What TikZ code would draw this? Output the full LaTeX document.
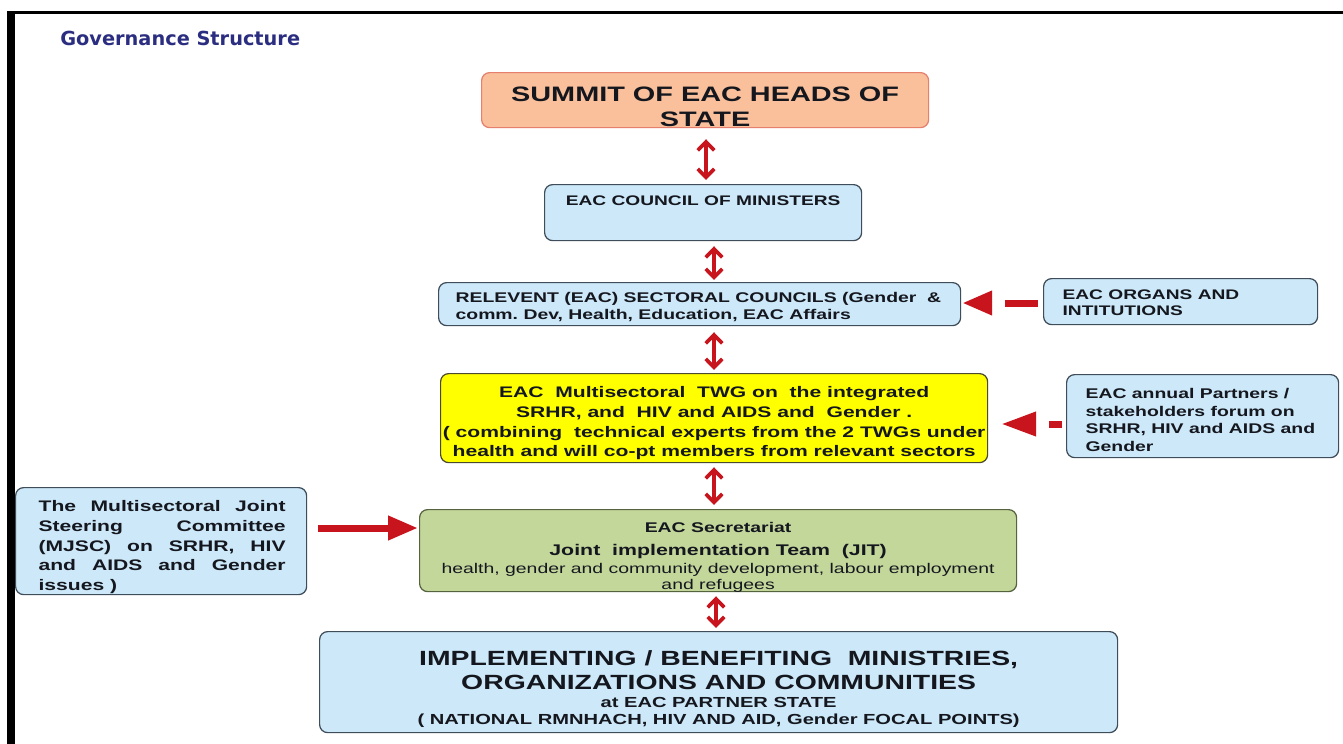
\documentclass[tikz,border=0pt]{standalone}
\usepackage{fontspec}
\setmainfont{Liberation Sans}[FakeStretch=1.38]
\newfontfamily\titlefont{DejaVu Sans}
\usetikzlibrary{arrows.meta}
\newlength\px \setlength\px{0.02cm}
\definecolor{arrowred}{HTML}{C8141C}
\definecolor{lblue}{HTML}{CDE8F8}
\definecolor{bordc}{HTML}{3F4C5A}
\definecolor{peach}{HTML}{FAC09B}
\definecolor{peachb}{HTML}{E57F6E}
\definecolor{twgy}{HTML}{FFFF00}
\definecolor{twgb}{HTML}{4A4A30}
\definecolor{secg}{HTML}{C4D79B}
\definecolor{secb}{HTML}{56633F}
\definecolor{titleblue}{HTML}{2B2E80}
\definecolor{txt}{HTML}{15171F}
\newcommand\bx[4]{\parbox[c][#2\px][t]{#1\px}{\lineskiplimit=-20pt\lineskip=0pt\parindent=0pt\vspace*{#3\px}#4}}
\newcommand\jl[1]{\hspace*{23\px}\makebox[247\px][s]{#1}}
\frenchspacing
\begin{document}
\begin{tikzpicture}[x=0.02cm,y=-0.02cm,
  box/.style={draw=bordc, line width=0.7pt, rounded corners=0.16cm, inner sep=0pt, anchor=north west, text=txt, font=\bfseries},
  dbl/.style={draw=arrowred, line width=2.1pt, {Straight Barb[length=1.7mm,width=3.3mm]}-{Straight Barb[length=1.7mm,width=3.3mm]}},
  fat/.style={draw=arrowred, line width=0.14cm, -{Triangle[length=0.6cm,width=0.46cm]}},
]
\useasboundingbox (0,0) rectangle (1343,744);
\fill[white] (0,0) rectangle (1343,744);
% frame
\fill[black] (7,11) rectangle (15,744);
\fill[black] (7,11) rectangle (1343,14);

\node[anchor=west, inner sep=0pt, text=titleblue, font=\titlefont\bfseries\fontsize{11}{13}\selectfont] (title) at (60,38) {Governance Structure};

\node[box, fill=peach, draw=peachb] (summit) at (481,72)
  {\bx{447}{55}{14.5}{\centering\fontsize{11.9}{14.17pt}\selectfont SUMMIT OF EAC HEADS OF\\STATE}};

\node[box, fill=lblue] (council) at (544,184)
  {\bx{317}{56}{11}{\centering\fontsize{7.9}{10pt}\selectfont EAC COUNCIL OF MINISTERS}};

\node[box, fill=lblue] (relevent) at (438,282)
  {\bx{522}{43}{10}{\raggedright\leftskip=17\px\fontsize{8}{9.35pt}\selectfont RELEVENT (EAC) SECTORAL COUNCILS (Gender\ \ \&\\comm. Dev, Health, Education, EAC Affairs}};

\node[box, fill=lblue] (organs) at (1043,278)
  {\bx{274}{46}{11}{\raggedright\leftskip=19\px\fontsize{7.9}{9.07pt}\selectfont EAC ORGANS AND\\INTITUTIONS}};

\node[box, fill=twgy, draw=twgb] (twg) at (440,373)
  {\bx{547}{89}{12.5}{\centering\fontsize{8.7}{11.34pt}\selectfont EAC\ \ Multisectoral\ \ TWG on\ \ the integrated\\SRHR, and\ \ HIV and AIDS and\ \ Gender .\\( combining\ \ technical experts from the 2 TWGs under\\health and will co-pt members from relevant sectors}};

\node[box, fill=lblue] (partners) at (1066,374)
  {\bx{272}{83}{14}{\raggedright\leftskip=19\px\fontsize{8}{9.92pt}\selectfont EAC annual Partners /\\stakeholders forum on\\SRHR, HIV and AIDS and\\Gender}};

\node[box, fill=lblue] (mjsc) at (15,487)
  {\bx{291}{107}{12.5}{\raggedright\fontsize{8.7}{11.34pt}\selectfont \jl{The Multisectoral Joint}\\\jl{Steering Committee}\\\jl{(MJSC) on SRHR, HIV}\\\jl{and AIDS and Gender}\\\hspace*{23\px}issues )}};

\node[box, fill=secg, draw=secb] (secr) at (419,509)
  {\bx{597}{82}{13}{\centering\fontsize{8}{9.07pt}\selectfont EAC Secretariat\\[6.5\px]\fontsize{8.8}{9.07pt}\selectfont Joint\ \ implementation Team\ \ (JIT)\\[2.5\px]\mdseries\fontsize{8}{9.07pt}\selectfont health, gender and community development, labour employment\\and refugees}};

\node[box, fill=lblue] (impl) at (319,631)
  {\bx{798}{101}{18.6}{\centering\fontsize{11.7}{9.64pt}\selectfont IMPLEMENTING / BENEFITING\ \ MINISTRIES,\\[7\px]ORGANIZATIONS AND COMMUNITIES\\[2\px]\fontsize{8.3}{9.64pt}\selectfont at EAC PARTNER STATE\\( NATIONAL RMNHACH, HIV AND AID, Gender FOCAL POINTS)}};

% vertical connectors
\coordinate (xa) at (706,0);
\coordinate (xb) at (714,0);
\coordinate (xc) at (716,0);
\draw[dbl, shorten <=0.22cm, shorten >=0.08cm] (summit.south -| xa) -- (council.north -| xa);
\draw[dbl, shorten <=0.10cm, shorten >=0.04cm] (council.south -| xb) -- (relevent.north -| xb);
\draw[dbl, shorten <=0.12cm, shorten >=0.06cm] (relevent.south -| xb) -- (twg.north -| xb);
\draw[dbl, shorten <=0.08cm, shorten >=0.08cm] (twg.south -| xb) -- (secr.north -| xb);
\draw[dbl, shorten <=0.08cm, shorten >=0.06cm] (secr.south -| xc) -- (impl.north -| xc);

% horizontal connectors
\coordinate (ya) at (0,303);
\coordinate (yb) at (0,424);
\coordinate (yc) at (0,528);
\draw[fat, dash pattern=on 0.66cm off 0.6cm, shorten <=0.1cm, shorten >=0.02cm] (organs.west |- ya) -- (relevent.east |- ya);
\draw[fat, -{Triangle[length=0.7cm,width=0.46cm]}, dash pattern=on 0.26cm off 0.6cm, shorten <=0.08cm, shorten >=0.26cm] (partners.west |- yb) -- (twg.east |- yb);
\draw[fat, shorten <=0.22cm, shorten >=0.02cm] (mjsc.east |- yc) -- (secr.west |- yc);
\end{tikzpicture}
\end{document}
